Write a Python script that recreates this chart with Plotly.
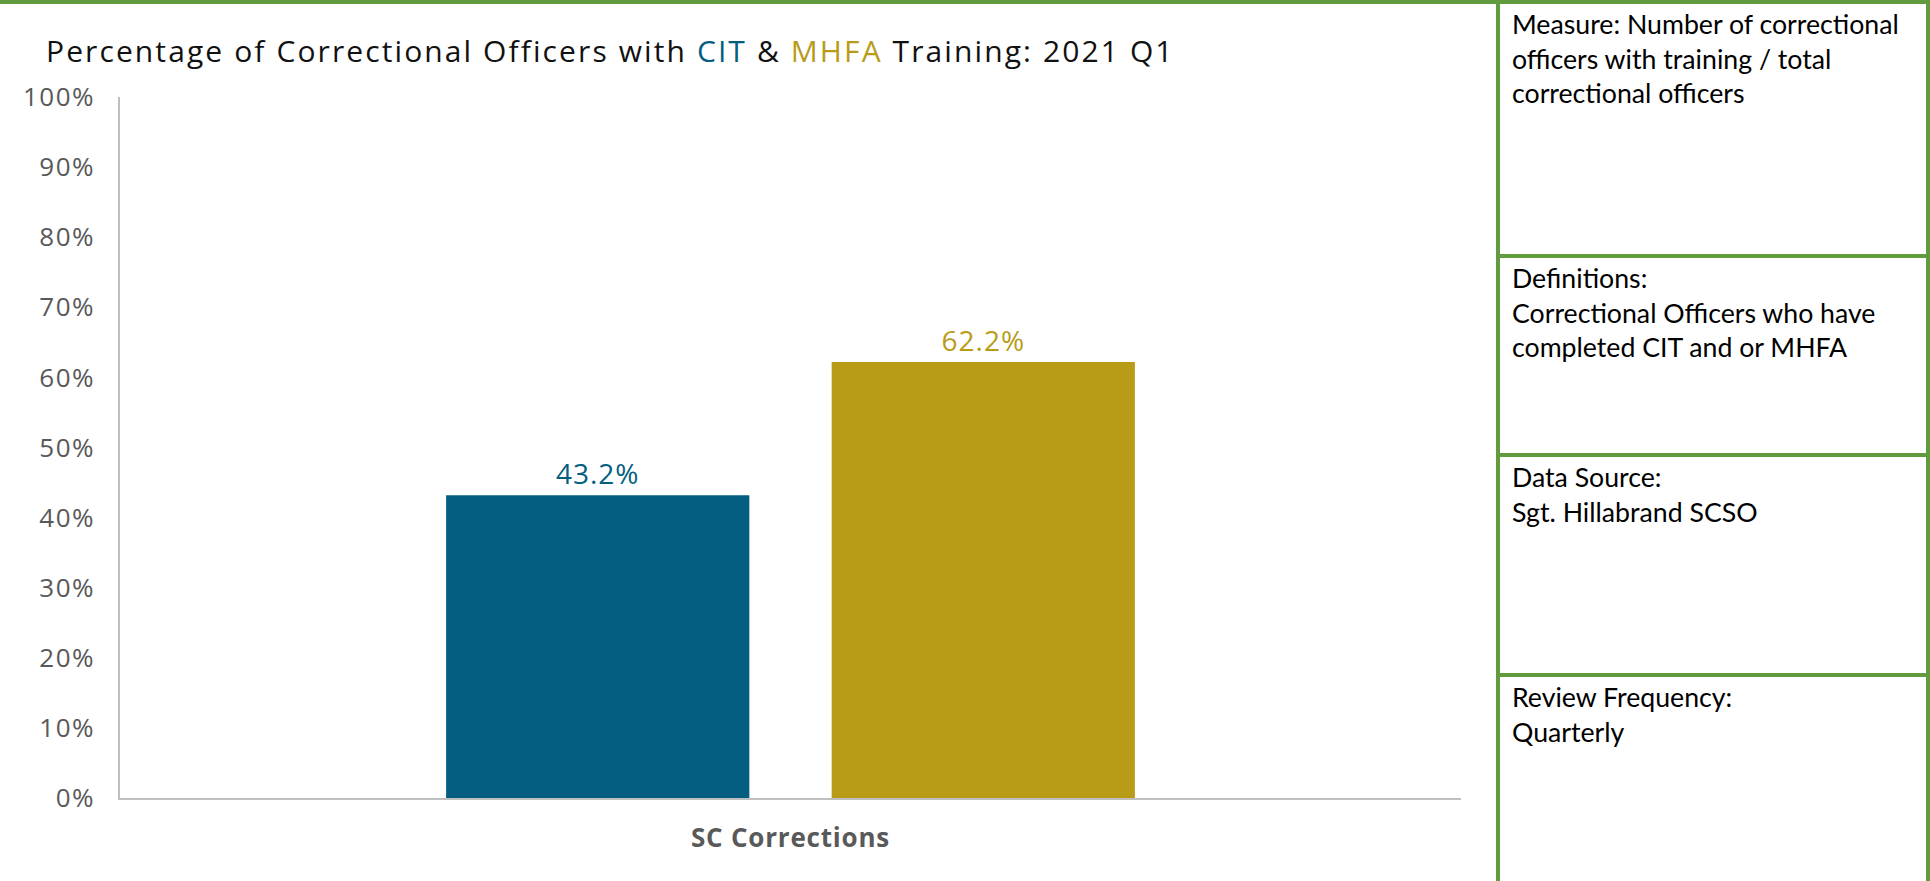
import plotly.graph_objects as go

W, H = 1930, 881

categories = ["SC Corrections"]
series_names = ["CIT", "MHFA"]
cit_values = [43.2]
mhfa_values = [62.2]
y_ticks = [0, 10, 20, 30, 40, 50, 60, 70, 80, 90, 100]
y_ticklabels = ["0%", "10%", "20%", "30%", "40%", "50%", "60%", "70%", "80%", "90%", "100%"]

BLUE = "#035E82"
GOLD = "#B89C18"
GREEN = "#629B3D"
GRAY = "#595959"

panel_texts = [
    "Measure: Number of correctional<br>officers with training / total<br>correctional officers",
    "Definitions:<br>Correctional Officers who have<br>completed CIT and or MHFA",
    "Data Source:<br>Sgt. Hillabrand SCSO",
    "Review Frequency:<br>Quarterly",
]


def px(x):
    return x / W


def py(y):
    return 1 - y / H


def spaced(s, sp):
    return f"<span style='letter-spacing:{sp}px'>{s}</span>"


fig = go.Figure()
fig.add_trace(go.Bar(
    x=categories, y=cit_values, name=series_names[0],
    marker=dict(color=BLUE, line=dict(width=0)),
    texttemplate=spaced("%{y:.1f}%", 1), textposition="outside",
    textfont=dict(color=BLUE, size=28, family="Open Sans"),
    cliponaxis=False,
))
fig.add_trace(go.Bar(
    x=categories, y=mhfa_values, name=series_names[1],
    marker=dict(color=GOLD, line=dict(width=0)),
    texttemplate=spaced("%{y:.1f}%", 1), textposition="outside",
    textfont=dict(color=GOLD, size=28, family="Open Sans"),
    cliponaxis=False,
))

shapes = []
shapes.append(dict(type="line", xref="paper", yref="paper", x0=0, x1=1, y0=py(2), y1=py(2),
                   line=dict(color=GREEN, width=4)))
for xx in (1498, 1928):
    shapes.append(dict(type="line", xref="paper", yref="paper", x0=px(xx), x1=px(xx), y0=py(0), y1=0,
                       line=dict(color=GREEN, width=4)))
for yy in (256, 455, 675):
    shapes.append(dict(type="line", xref="paper", yref="paper", x0=px(1498), x1=px(1930), y0=py(yy), y1=py(yy),
                       line=dict(color=GREEN, width=4)))

annotations = []
title_html = spaced("Percentage of Correctional Officers with "
                    f"<span style='color:{BLUE}'>CIT</span> &amp; "
                    f"<span style='color:{GOLD}'>MHFA</span> Training: 2021 Q1", 2.1)
annotations.append(dict(text=title_html, xref="paper", yref="paper", x=px(44), y=py(50),
                        xanchor="left", yanchor="middle", showarrow=False,
                        font=dict(size=30, color="#111111", family="Open Sans")))

panel_tops = [4, 258, 457, 677]
for t, top in zip(panel_texts, panel_tops):
    annotations.append(dict(text=t, xref="paper", yref="paper", x=px(1510), y=py(top + 2),
                            xanchor="left", yanchor="top", align="left", showarrow=False,
                            font=dict(size=26.7, color="#000000", family="Lato")))

fig.update_layout(
    width=W, height=H,
    margin=dict(l=0, r=0, t=0, b=0, autoexpand=False),
    paper_bgcolor="white", plot_bgcolor="white",
    barmode="group", bargap=0.425, bargroupgap=0.2135,
    showlegend=False,
    shapes=shapes, annotations=annotations,
    xaxis=dict(domain=[px(120), px(1461)], showgrid=False, showline=True, automargin=False,
               linecolor="#BFBFBF", linewidth=2, ticks="",
               tickvals=categories, ticktext=[spaced(c, 0.8) for c in categories],
               tickfont=dict(size=26, color=GRAY, family="Open Sans", weight="bold"),
               ticklabelstandoff=16, fixedrange=True),
    yaxis=dict(domain=[py(798), py(97)], range=[0, 100], showgrid=False, showline=True, automargin=False,
               linecolor="#BFBFBF", linewidth=1.5, ticks="",
               tickvals=y_ticks, ticktext=[spaced(t, 1.5) for t in y_ticklabels],
               tickfont=dict(size=26, color=GRAY, family="Open Sans"),
               ticklabelstandoff=18, zeroline=False, fixedrange=True),
)

fig.write_html("out.html", config={"displayModeBar": False},
               post_script="document.body.style.margin='0';")
